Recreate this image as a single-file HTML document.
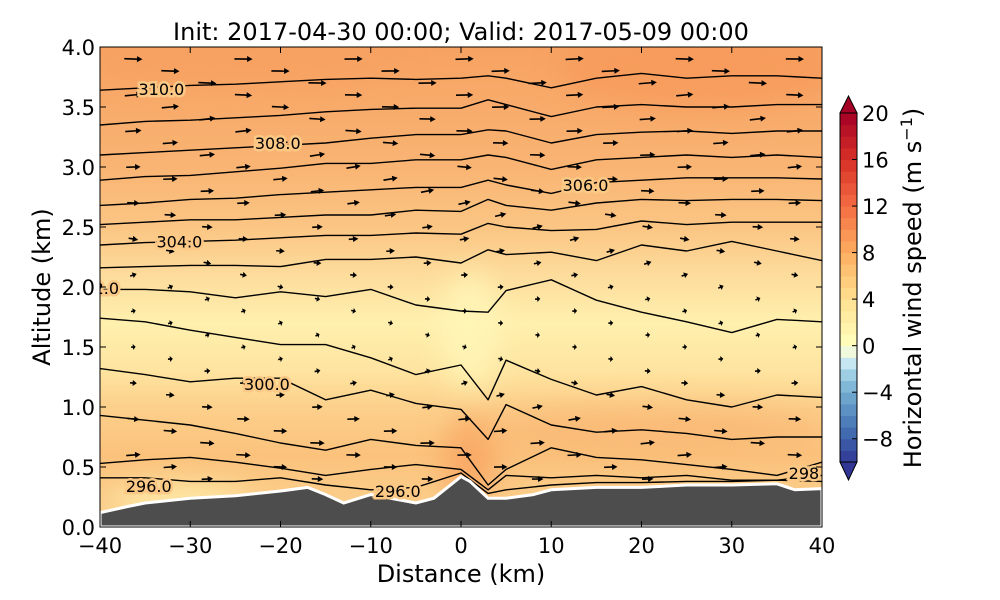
<!DOCTYPE html>
<html><head><meta charset="utf-8"><style>
html,body{margin:0;padding:0;background:#fff;width:1000px;height:600px;overflow:hidden}
svg{display:block;font-family:"DejaVu Sans","Liberation Sans",sans-serif}
</style></head><body>
<svg id="chart" width="1000" height="600" viewBox="0 0 1000 600">
<defs>
<linearGradient id="bg" x1="0" y1="0" x2="0" y2="1">
<stop offset="0" stop-color="#f7a262"/>
<stop offset="0.25" stop-color="#f9b473"/>
<stop offset="0.375" stop-color="#fbc583"/>
<stop offset="0.475" stop-color="#fddc9c"/>
<stop offset="0.575" stop-color="#fff0ae"/>
<stop offset="0.675" stop-color="#fee4a0"/>
<stop offset="0.75" stop-color="#fcd08b"/>
<stop offset="0.85" stop-color="#fbc27c"/>
<stop offset="0.93" stop-color="#fbcc88"/>
<stop offset="1" stop-color="#fbd090"/>
</linearGradient>
<filter id="blur" x="-50%" y="-50%" width="200%" height="200%"><feGaussianBlur stdDeviation="14"/></filter>
<clipPath id="plotclip"><rect x="100" y="47" width="722" height="480"/></clipPath>
</defs>
<text x="461" y="40" font-size="24" text-anchor="middle">Init: 2017-04-30 00:00; Valid: 2017-05-09 00:00</text>
<g id="plot" clip-path="url(#plotclip)">
<rect x="100" y="47" width="722" height="480" fill="url(#bg)"/>
<g filter="url(#blur)">
<ellipse cx="700" cy="70" rx="140" ry="40" fill="#f6995a" opacity="0.7"/>
<ellipse cx="250" cy="60" rx="150" ry="25" fill="#f6a060" opacity="0.6"/>
<ellipse cx="470" cy="460" rx="25" ry="45" fill="#f7a460" opacity="0.8"/>
<ellipse cx="650" cy="430" rx="180" ry="22" fill="#f9b673" opacity="0.8"/>
<ellipse cx="470" cy="330" rx="30" ry="60" fill="#fff6b8" opacity="0.8"/>
<ellipse cx="180" cy="500" rx="70" ry="15" fill="#fff2b0" opacity="0.8"/>
</g>
<g id="contours"></g>
<g id="arrows"></g>
<path id="terrain" fill="#4d4d4d" stroke="#fff" stroke-width="3"/>
<g id="clabels" font-size="16" fill="#000"></g>
</g>
<rect x="100" y="47" width="722" height="480" fill="none" stroke="#000" stroke-width="1"/>
<g id="xaxis" font-size="21" text-anchor="middle"></g>
<g id="yaxis" font-size="21" text-anchor="end"></g>
<text x="461" y="582" font-size="24" text-anchor="middle">Distance (km)</text>
<text transform="translate(50,287) rotate(-90)" font-size="24" text-anchor="middle">Altitude (km)</text>
<g id="colorbar"></g>
<text transform="translate(921,288) rotate(-90)" font-size="24" text-anchor="middle">Horizontal wind speed (m s<tspan dy="-9" font-size="16">−1</tspan><tspan dy="9">)</tspan></text>
</svg>
<script>
// ---- data ----
const terrainX = [-40,-37,-35,-30,-25,-20,-17,-15,-13,-10,-5,-3,0,1,3,5,8,10,15,20,25,30,35,37,40];
const terrainAlt = [0.12,0.17,0.2,0.24,0.26,0.3,0.33,0.27,0.2,0.27,0.2,0.24,0.42,0.38,0.24,0.24,0.27,0.31,0.33,0.33,0.35,0.35,0.36,0.31,0.32];
const gridX = [-40,-35,-30,-25,-20,-15,-10,-5,0,3,5,10,15,20,25,30,35,40];
const thetaLines = [
[3.64,3.66,3.68,3.69,3.71,3.73,3.74,3.73,3.74,3.76,3.74,3.66,3.74,3.78,3.74,3.76,3.76,3.74],
[3.35,3.38,3.39,3.41,3.43,3.46,3.48,3.49,3.49,3.56,3.52,3.42,3.5,3.52,3.5,3.5,3.52,3.52],
[3.1,3.12,3.14,3.16,3.18,3.2,3.24,3.27,3.27,3.31,3.3,3.2,3.27,3.29,3.3,3.28,3.3,3.3],
[2.89,2.92,2.93,2.96,2.99,3.03,3.03,3.06,3.06,3.1,3.08,2.98,3.06,3.08,3.1,3.08,3.1,3.08],
[2.68,2.7,2.73,2.74,2.77,2.79,2.81,2.83,2.83,2.89,2.85,2.78,2.87,2.89,2.91,2.91,2.91,2.9],
[2.52,2.54,2.56,2.56,2.58,2.6,2.6,2.64,2.63,2.73,2.68,2.64,2.7,2.73,2.72,2.73,2.73,2.72],
[2.35,2.37,2.38,2.39,2.41,2.43,2.43,2.45,2.44,2.53,2.5,2.47,2.48,2.55,2.52,2.54,2.54,2.54],
[2.16,2.17,2.18,2.18,2.17,2.23,2.23,2.25,2.2,2.31,2.27,2.29,2.22,2.35,2.3,2.38,2.3,2.22],
[1.98,1.98,1.96,1.91,1.96,1.92,1.98,1.85,1.8,1.79,1.97,2.06,1.89,1.79,1.71,1.62,1.73,1.71],
[1.74,1.71,1.64,1.58,1.52,1.52,1.41,1.27,1.35,1.06,1.39,1.23,1.1,1.17,1.06,1.0,1.1,1.08],
[1.32,1.27,1.21,1.24,1.24,1.06,1.14,1.03,0.98,0.73,1.02,0.85,0.79,0.81,0.78,0.73,0.75,0.75],
[0.93,0.89,0.85,0.78,0.7,0.64,0.73,0.68,0.66,0.35,0.48,0.66,0.58,0.56,0.52,0.48,0.43,0.54],
[0.53,0.56,0.58,0.54,0.49,0.43,0.48,0.52,0.48,0.31,0.43,0.41,0.43,0.41,0.43,0.39,0.39,0.43],
[0.41,0.41,0.38,0.38,0.41,0.35,0.31,0.33,0.43,0.28,0.31,0.35,0.37,0.37,0.38,0.38,0.39,0.38]
];
const labelText = ["310.0","308.0","306.0","304.0","2.0","300.0","296.0","296.0","298"];
const labelX = [-33.2,-20.3,13.8,-31.2,-39.3,-21.5,-34.6,-7.0,38.0];
const labelAlt = [3.65,3.2,2.85,2.38,1.99,1.19,0.34,0.3,0.45];
const arrowRowAlt = [3.9,3.8,3.7,3.6,3.5,3.4,3.3,3.2,3.1,3.0,2.9,2.8,2.7,2.6,2.5,2.4,2.3,2.2,2.1,2.0,1.9,1.8,1.7,1.6,1.5,1.4,1.3,1.2,1.1,1.0,0.9,0.8,0.7,0.6,0.5,0.4];
const arrowRowU = [8,8,8,7.5,7.5,7,7,6.5,6.5,6,6,5.5,5,4.5,4,3.5,3,2.5,2,1.5,1.2,1,1,0.8,0.8,1,1.5,2,3,4,5,5.5,6,6,5.5,4.5];
const arrowRowW = [0.5,0.5,0.8,0.8,0.8,1,1,1,1.2,1.2,1.2,1.3,1.3,1.3,1.2,1.2,1,1,0.8,0.8,0.6,0.5,0.5,0.5,0.5,0.5,0.6,0.8,1,1,1,0.8,0.8,0.6,0.5,0.3];
const arrowColX = [-36.3,-32.2,-28.1,-24.1,-20.0,-15.9,-11.9,-7.8,-3.7,0.4,4.4,8.5,12.6,16.6,20.7,24.8,28.8,32.9,37.0];
const cbLevels = [-10,-9,-8,-7,-6,-5,-4,-3,-2,-1,0,1,2,3,4,5,6,7,8,9,10,11,12,13,14,15,16,17,18,19];
const cbTicks = [20,16,12,8,4,0,-4,-8];
// ---- scales ----
const X0=100,X1=822,Y0=527,Y1=47;
const sx = d => X0 + (d+40)/80*(X1-X0);
const sy = a => Y0 - a/4*(Y0-Y1);
const NS="http://www.w3.org/2000/svg";
function mk(tag,attrs,parent){const e=document.createElementNS(NS,tag);for(const k in attrs)e.setAttribute(k,attrs[k]);parent.appendChild(e);return e;}
function terrainAt(d){for(let i=0;i<terrainX.length-1;i++){if(d>=terrainX[i]&&d<=terrainX[i+1]){const t=(d-terrainX[i])/(terrainX[i+1]-terrainX[i]);return terrainAlt[i]+t*(terrainAlt[i+1]-terrainAlt[i]);}}return terrainAlt[terrainAlt.length-1];}
// terrain
let tp="M"+sx(-40)+","+sy(0);
terrainX.forEach((d,i)=>{tp+=" L"+sx(d).toFixed(1)+","+sy(terrainAlt[i]).toFixed(1);});
tp+=" L"+sx(40)+","+sy(0)+" Z";
document.getElementById('terrain').setAttribute('d',tp);
// contours
const cg=document.getElementById('contours');
thetaLines.forEach((line,li)=>{
  const pts=line.map((a,i)=>sx(gridX[i]).toFixed(1)+","+sy(Math.max(a,terrainAt(gridX[i])+0.03)).toFixed(1));
  const p=mk('polyline',{points:pts.join(' '),fill:'none',stroke:'#000','stroke-width':1.4,'stroke-linejoin':'round'},cg);
  
  
});
// contour labels
const lg=document.getElementById('clabels');
labelText.forEach((t,i)=>{
  const e=mk('text',{x:sx(labelX[i]),y:sy(labelAlt[i])+6,'text-anchor':'middle',stroke:'#fbc885','stroke-width':5,'paint-order':'stroke'},lg);
  e.textContent=t;
  
  
});
// arrows
const ag=document.getElementById('arrows');
arrowColX.forEach((d,ci)=>{
  arrowRowAlt.forEach((a,ri)=>{
    if((ri+ci*2)%3!==0) return;
    if(a < terrainAt(d)+0.05) return;
    const u=arrowRowU[ri], w=arrowRowW[ri]*(((ci*7+ri*3)%5)-1.5)/3;
    const L=u*1.9+3, ang=Math.atan2(-w,u);
    const x=sx(d), y=sy(a);
    const g=mk('g',{transform:`translate(${x.toFixed(1)},${y.toFixed(1)}) rotate(${(ang*180/Math.PI).toFixed(1)})`},ag);
    
    
    const hl=Math.min(5.5,L*0.6);
    mk('line',{x1:-L/2,y1:0,x2:L/2-hl+1,y2:0,stroke:'#000','stroke-width':1.6},g);
    mk('polygon',{points:`${L/2},0 ${L/2-hl},-3 ${L/2-hl},3`,fill:'#000'},g);
  });
});
// axes
const xg=document.getElementById('xaxis');
for(let d=-40; d<=40; d+=10){
  const x=sx(d);
  mk('line',{x1:x,y1:Y0,x2:x,y2:Y0-6,stroke:'#000'},xg);
  mk('line',{x1:x,y1:Y1,x2:x,y2:Y1+6,stroke:'#000'},xg);
  const t=mk('text',{x:x,y:553},xg); t.textContent=(d<0?"−":"")+Math.abs(d);
  
  
}
const yg=document.getElementById('yaxis');
for(let a=0; a<=4.001; a+=0.5){
  const y=sy(a);
  mk('line',{x1:X0,y1:y,x2:X0+6,y2:y,stroke:'#000'},yg);
  mk('line',{x1:X1,y1:y,x2:X1-6,y2:y,stroke:'#000'},yg);
  const t=mk('text',{x:95,y:y+8},yg); t.textContent=a.toFixed(1);
  
  
}
// colorbar
const stops=[[-10,[49,54,149]],[-7,[69,117,180]],[-4,[116,173,209]],[-2,[171,217,233]],[-1,[224,243,248]],[0,[255,255,191]],[4,[254,224,144]],[8,[253,174,97]],[12,[244,109,67]],[16,[215,48,39]],[20,[165,0,38]]];
function cmap(v){for(let i=0;i<stops.length-1;i++){if(v>=stops[i][0]&&v<=stops[i+1][0]){const t=(v-stops[i][0])/(stops[i+1][0]-stops[i][0]);const c=stops[i][1].map((c0,k)=>Math.round(c0+t*(stops[i+1][1][k]-c0)));return `rgb(${c})`;}}return 'rgb(165,0,38)';}
const cb=document.getElementById('colorbar');
const CX=840,CW=17,CT=113,CB=462;
const cy=v=>CT+(20-v)/30*(CB-CT);
cbLevels.forEach(v=>{
  const r=mk('rect',{x:CX,y:cy(v+1),width:CW,height:cy(v)-cy(v+1)+0.5,fill:cmap(v+0.5)},cb);
  
  
});
mk('polygon',{points:`${CX},${CT} ${CX+CW/2},96 ${CX+CW},${CT}`,fill:'#a50026',stroke:'#000','stroke-width':1},cb);
mk('polygon',{points:`${CX},${CB} ${CX+CW/2},480 ${CX+CW},${CB}`,fill:'#313695',stroke:'#000','stroke-width':1},cb);
mk('rect',{x:CX,y:CT,width:CW,height:CB-CT,fill:'none',stroke:'#000','stroke-width':1},cb);
cbTicks.forEach(v=>{
  const y=cy(v);
  mk('line',{x1:CX+CW-5,y1:y,x2:CX+CW,y2:y,stroke:'#000'},cb);
  const t=mk('text',{x:862,y:y+8,'font-size':21},cb); t.textContent=(v<0?"−":"")+Math.abs(v);
  
  
});
</script>
</body></html>
